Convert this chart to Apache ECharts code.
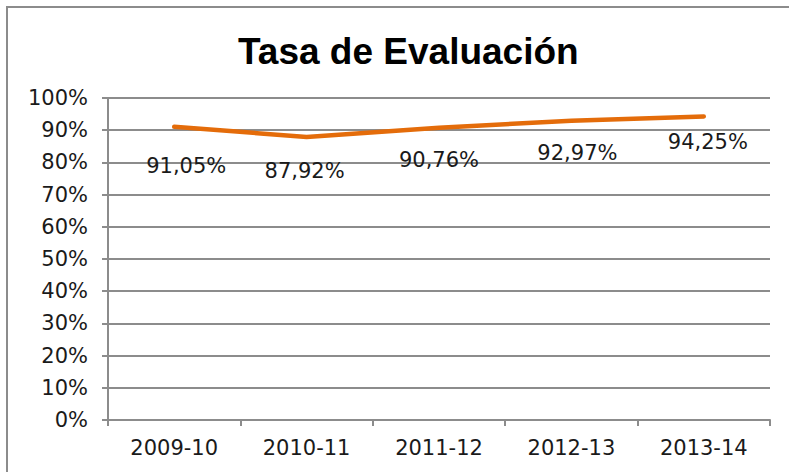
<!DOCTYPE html>
<html>
<head>
<meta charset="utf-8">
<style>
  html, body { margin: 0; padding: 0; background: #fff; }
  #chart { width: 789px; height: 472px; }
</style>
<script src="https://cdn.jsdelivr.net/npm/echarts@6/dist/echarts.min.js"></script>
</head>
<body>
<div id="chart"></div>
<script>
var cursos = ['2009-10', '2010-11', '2011-12', '2012-13', '2013-14'];
var tasa = [91.05, 87.92, 90.76, 92.97, 94.25];
var tasaLabels = ['91,05%', '87,92%', '90,76%', '92,97%', '94,25%'];

(function() {
  var chart = echarts.init(document.getElementById('chart'), null, { renderer: 'svg' });
  var grey = '#8c8c8c';
  var orange = '#e46c0a';
  var font = 'DejaVu Sans, Verdana, sans-serif';

  // Excel put the labels at slightly uneven spots under the line
  var labelDist = [28, 23, 21, 21, 14];
  var labelDx = [12, -2, 0, 6, 4];

  chart.setOption({
    animation: false,
    title: {
      text: 'Tasa de Evaluación',
      left: 233,
      top: 28,
      textStyle: { fontFamily: 'Liberation Sans, Arial, sans-serif', fontWeight: 'bold', fontSize: 37, color: '#000' }
    },
    graphic: [{
      type: 'rect',
      shape: { x: 7, y: 7, width: 820, height: 500 },
      style: { fill: 'none', stroke: grey, lineWidth: 2 },
      silent: true
    }],
    grid: { left: 108, right: 19, top: 98, bottom: 52 },
    xAxis: {
      type: 'category',
      data: cursos,
      boundaryGap: true,
      axisLine: { lineStyle: { color: grey, width: 2 } },
      axisTick: { show: true, length: 6, lineStyle: { color: grey, width: 2 } },
      axisLabel: { color: '#1a1a1a', fontFamily: font, fontSize: 21, margin: 17 }
    },
    yAxis: {
      type: 'value',
      min: 0,
      max: 100,
      interval: 10,
      axisLine: { show: true, lineStyle: { color: grey, width: 2 } },
      axisTick: { show: true, length: 6, lineStyle: { color: grey, width: 2 } },
      axisLabel: { color: '#1a1a1a', fontFamily: font, fontSize: 21, margin: 20, formatter: '{value}%' },
      splitLine: { lineStyle: { color: grey, width: 2 } }
    },
    series: [{
      type: 'line',
      data: tasa.map(function(v, i) {
        return {
          value: v,
          label: { distance: labelDist[i], offset: [labelDx[i], 0], formatter: tasaLabels[i] }
        };
      }),
      showSymbol: true,
      symbol: 'circle',
      symbolSize: 2,
      itemStyle: { color: orange },
      lineStyle: { color: orange, width: 4.5, cap: 'round', join: 'round' },
      label: {
        show: true,
        position: 'bottom',
        color: '#1a1a1a',
        fontFamily: font,
        fontSize: 21
      }
    }]
  });
})();
</script>
</body>
</html>
